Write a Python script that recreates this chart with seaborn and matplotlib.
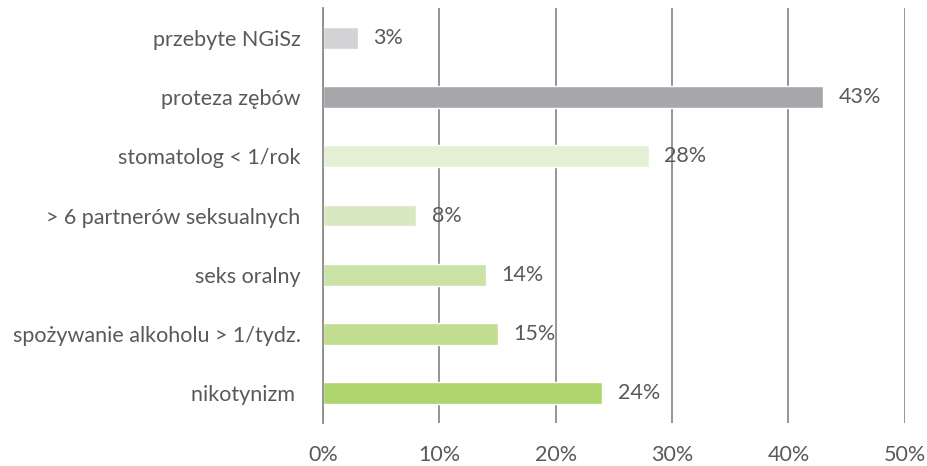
import matplotlib
matplotlib.use("Agg")
import pandas as pd
import seaborn as sns
import matplotlib.pyplot as plt

# dane z wykresu
kategorie = ['przebyte NGiSz', 'proteza zębów', 'stomatolog < 1/rok',
             '> 6 partnerów seksualnych', 'seks oralny',
             'spożywanie alkoholu > 1/tydz.', 'nikotynizm ']
wartosci = [3, 43, 28, 8, 14, 15, 24]
kolory = ['#D3D3D5', '#A6A7AA', '#E4F0D4', '#D8E9C2', '#CBE2A6', '#C0DD90', '#AED46E']
xticki = [0, 10, 20, 30, 40, 50]

df = pd.DataFrame({'kategoria': kategorie, 'wartosc': wartosci})

sns.set_style('white')
plt.rcParams['font.family'] = ['Lato', 'DejaVu Sans']

fig = plt.figure(figsize=(9.28, 4.66), dpi=100)
ax = fig.add_axes([0.348, 0.092, 0.627, 0.891])

sns.barplot(data=df, x='wartosc', y='kategoria', hue='kategoria', palette=kolory,
            legend=False, width=0.37, ax=ax, saturation=1)

ax.set_xlim(0, 50)
ax.set_ylim(6.5, -0.5)
ax.set_xticks(xticki)
ax.set_xticklabels([f'{t}%' for t in xticki])
ax.set_xlabel('')
ax.set_ylabel('')
ax.xaxis.grid(True, color='#8C8C8C', linewidth=1.3)
ax.set_axisbelow(True)
for s in ['top', 'right', 'bottom']:
    ax.spines[s].set_visible(False)
ax.spines['left'].set_color('#8C8C8C')
ax.spines['left'].set_linewidth(1.3)
ax.tick_params(axis='x', length=0, pad=16, labelsize=15.5, labelcolor='#595959')
ax.tick_params(axis='y', length=0, pad=16, labelsize=15.5, labelcolor='#595959')

for i, v in enumerate(wartosci):
    ax.text(v + 1.35, i, f'{v}%', va='center', ha='left', fontsize=15.5, color='#595959')

fig.savefig('out.png', dpi=100)
